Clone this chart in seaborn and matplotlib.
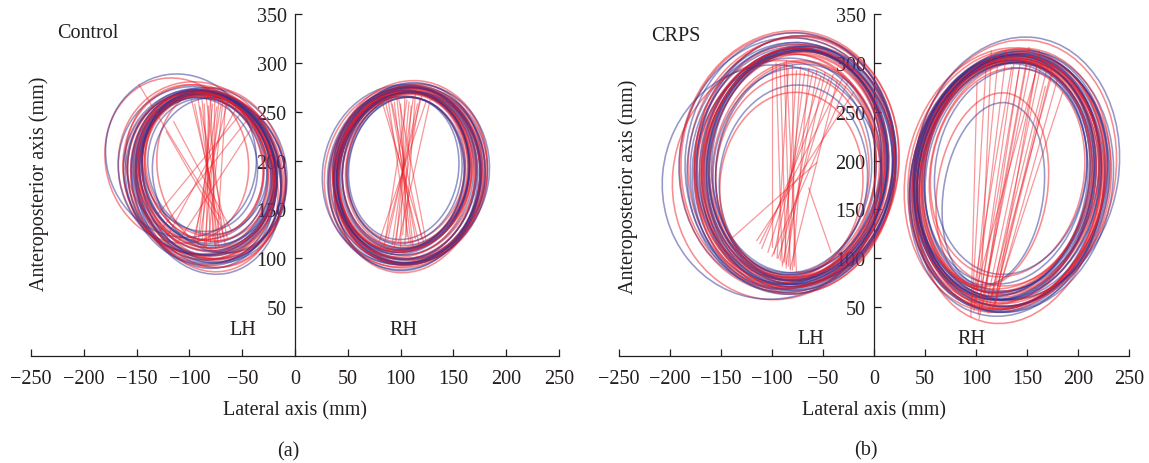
import numpy as np
import pandas as pd
import matplotlib
matplotlib.use("Agg")
import matplotlib.pyplot as plt
from matplotlib.patches import Ellipse
import seaborn as sns

# ---------------- data (mm) ----------------
x_ticks = [-250, -200, -150, -100, -50, 0, 50, 100, 150, 200, 250]
y_ticks = [50, 100, 150, 200, 250, 300, 350]
panel_names = ["Control", "CRPS"]
panel_letters = ["(a)", "(b)"]
hand_names = ["LH", "RH"]

# loops: (centre x, centre y, width, height)
ctrl_lh_tilt = 10
ctrl_lh_red = [(-85, 190, 130, 165), (-88, 185, 140, 175), (-82, 192, 120, 150), (-90, 188, 145, 180),
               (-80, 180, 135, 180), (-86, 195, 110, 145), (-112, 200, 135, 170), (-84, 186, 125, 160),
               (-78, 184, 138, 172), (-92, 192, 150, 178), (-70, 190, 120, 170), (-87, 183, 128, 168),
               (-95, 198, 130, 160), (-83, 178, 132, 185), (-86, 187, 133, 170), (-81, 189, 127, 158),
               (-89, 182, 138, 178), (-84, 193, 116, 152), (-91, 186, 142, 168), (-79, 186, 130, 174),
               (-87, 191, 122, 162), (-83, 181, 144, 182)]
ctrl_lh_blue = [(-86, 188, 128, 162), (-84, 184, 142, 178), (-89, 193, 118, 148), (-81, 187, 146, 176),
                (-87, 180, 134, 182), (-83, 194, 112, 140), (-108, 205, 142, 168), (-85, 189, 124, 158),
                (-79, 182, 140, 175), (-93, 190, 148, 172), (-72, 185, 125, 160), (-86, 186, 130, 166),
                (-90, 196, 108, 138), (-82, 176, 136, 186), (-85, 186, 135, 168), (-82, 191, 125, 156),
                (-88, 184, 140, 180), (-86, 190, 118, 150), (-90, 188, 144, 170), (-80, 184, 132, 176),
                (-84, 192, 120, 160), (-87, 182, 146, 180)]

ctrl_rh_tilt = -6
ctrl_rh_red = [(106, 188, 130, 170), (104, 185, 142, 180), (108, 190, 120, 160), (102, 184, 148, 186),
               (107, 182, 136, 178), (105, 192, 112, 152), (110, 186, 140, 176), (103, 189, 126, 166),
               (106, 180, 138, 190), (109, 191, 146, 182), (101, 187, 118, 158), (104, 183, 132, 174),
               (112, 186, 140, 184), (100, 190, 128, 164), (105, 186, 134, 174), (103, 188, 124, 164),
               (107, 184, 140, 180), (104, 190, 118, 158), (108, 185, 144, 184), (102, 186, 130, 170),
               (106, 189, 122, 162), (105, 183, 146, 186)]
ctrl_rh_blue = [(105, 187, 128, 168), (103, 184, 144, 182), (107, 191, 116, 156), (101, 186, 150, 184),
                (108, 183, 134, 176), (104, 190, 108, 150), (111, 185, 142, 180), (102, 188, 124, 164),
                (105, 181, 136, 188), (110, 189, 148, 180), (100, 186, 120, 160), (106, 184, 130, 172),
                (103, 192, 104, 146), (108, 187, 138, 186), (106, 185, 132, 172), (104, 189, 122, 162),
                (108, 186, 142, 182), (103, 187, 116, 156), (107, 184, 146, 182), (101, 188, 128, 168),
                (105, 190, 120, 160), (104, 182, 144, 188)]

crps_lh_tilt = -5
crps_lh_red = [(-79, 195, 180, 240), (-82, 198, 200, 255), (-76, 190, 165, 225), (-84, 200, 210, 262),
               (-74, 188, 190, 248), (-80, 186, 150, 205), (-78, 202, 195, 250), (-86, 192, 175, 235),
               (-72, 196, 185, 245), (-95, 180, 205, 245), (-81, 175, 140, 190), (-77, 194, 170, 230),
               (-83, 199, 215, 268), (-75, 191, 160, 220), (-78, 193, 185, 245), (-80, 197, 175, 238),
               (-77, 189, 195, 252), (-82, 195, 168, 228), (-76, 199, 200, 258), (-79, 191, 178, 240),
               (-81, 194, 190, 250), (-75, 196, 172, 232)]
crps_lh_blue = [(-78, 196, 182, 238), (-81, 193, 198, 252), (-75, 199, 168, 228), (-85, 197, 212, 258),
                (-73, 192, 188, 250), (-79, 180, 145, 195), (-77, 201, 192, 254), (-87, 189, 178, 232),
                (-71, 195, 186, 244), (-100, 178, 215, 240), (-80, 190, 155, 210), (-76, 197, 172, 234),
                (-82, 200, 206, 262), (-74, 188, 162, 222), (-79, 194, 184, 242), (-77, 196, 178, 236),
                (-80, 190, 196, 254), (-78, 198, 170, 230), (-82, 193, 202, 256), (-76, 192, 176, 242),
                (-80, 197, 188, 248), (-74, 194, 174, 236)]

crps_rh_tilt = -8
crps_rh_red = [(132, 182, 170, 245), (130, 178, 185, 262), (135, 186, 160, 230), (128, 180, 195, 272),
               (134, 175, 178, 255), (131, 188, 150, 215), (137, 183, 188, 265), (126, 177, 175, 250),
               (133, 170, 182, 275), (138, 190, 198, 268), (116, 170, 108, 200), (129, 184, 165, 240),
               (136, 179, 192, 258), (127, 186, 172, 236), (131, 180, 176, 252), (133, 183, 168, 240),
               (129, 178, 186, 262), (134, 185, 172, 246), (130, 181, 192, 266), (132, 177, 180, 256),
               (135, 182, 184, 258), (128, 184, 166, 238)]
crps_rh_blue = [(131, 181, 172, 248), (133, 177, 186, 264), (129, 187, 158, 228), (136, 179, 196, 270),
                (127, 183, 176, 252), (134, 189, 148, 212), (130, 174, 190, 268), (138, 185, 180, 256),
                (125, 180, 168, 240), (140, 192, 200, 270), (117, 166, 98, 188), (132, 183, 162, 236),
                (128, 176, 184, 260), (135, 188, 170, 244), (132, 182, 178, 250), (130, 179, 170, 244),
                (134, 181, 188, 262), (129, 186, 174, 244), (133, 178, 194, 268), (131, 183, 182, 254),
                (136, 180, 186, 260), (127, 182, 168, 242)]

# straight red jumps: (x start, y start, x end, y end)
ctrl_lh_jumps = [(-98, 262, -66, 115), (-95, 258, -70, 118), (-92, 265, -72, 112), (-90, 255, -64, 120),
                 (-88, 262, -76, 113), (-86, 258, -80, 116), (-84, 264, -68, 122), (-82, 256, -84, 112),
                 (-80, 262, -88, 118), (-78, 258, -92, 114), (-76, 265, -78, 120), (-74, 255, -95, 116),
                 (-72, 262, -86, 112), (-70, 258, -90, 122), (-68, 264, -82, 118), (-66, 256, -74, 114),
                 (-64, 260, -96, 120), (-80, 268, -75, 110), (-50, 250, -130, 145), (-45, 242, -128, 128),
                 (-55, 255, -122, 120), (-148, 278, -70, 140), (-122, 230, -70, 132), (-115, 240, -60, 128),
                 (-40, 235, -110, 118)]
ctrl_rh_jumps = [(82, 262, 122, 116), (86, 258, 118, 112), (90, 266, 114, 120), (94, 260, 110, 114),
                 (98, 264, 124, 118), (100, 258, 106, 122), (104, 266, 100, 112), (108, 260, 96, 118),
                 (112, 264, 92, 114), (116, 258, 88, 120), (120, 266, 84, 112), (124, 260, 80, 118),
                 (128, 262, 98, 116), (96, 268, 112, 110), (110, 256, 102, 124), (88, 264, 108, 116),
                 (118, 262, 94, 112), (106, 262, 86, 122), (92, 258, 120, 120), (114, 268, 104, 114)]
crps_lh_jumps = [(-100, 298, -100, 112), (-96, 300, -90, 95), (-92, 296, -86, 90), (-88, 300, -82, 88),
                 (-84, 294, -95, 100), (-80, 298, -78, 92), (-76, 292, -88, 96), (-72, 296, -84, 92),
                 (-68, 290, -92, 98), (-64, 294, -80, 88), (-60, 290, -98, 104), (-56, 292, -86, 94),
                 (-52, 286, -104, 106), (-48, 290, -90, 92), (-44, 284, -110, 110), (-40, 288, -94, 100),
                 (-36, 282, -82, 90), (-30, 286, -112, 115), (-26, 280, -100, 102), (-86, 302, -76, 86),
                 (-140, 120, -56, 198), (-64, 172, -42, 106), (-20, 270, -115, 118)]
crps_rh_jumps = [(96, 50, 110, 300), (98, 46, 122, 308), (100, 55, 130, 312), (102, 42, 138, 305),
                 (104, 60, 145, 310), (106, 48, 150, 300), (108, 65, 155, 306), (110, 52, 160, 298),
                 (112, 44, 165, 304), (114, 58, 170, 296), (116, 62, 175, 290), (118, 50, 180, 284),
                 (120, 66, 168, 276), (100, 68, 158, 288), (95, 40, 101, 280), (105, 70, 115, 312),
                 (110, 72, 142, 292), (115, 45, 185, 270), (119, 55, 162, 312), (97, 62, 135, 296),
                 (121, 70, 176, 300), (103, 38, 152, 316)]

# ---------------- style ----------------
sns.set_theme(style="white")
plt.rcParams["font.family"] = ["Liberation Serif", "DejaVu Serif"]
plt.rcParams["axes.unicode_minus"] = True

RED = "#ed1c24"
BLUE = "#2e3192"
INK = "#231f20"
FS = 14.5

fig = plt.figure(figsize=(11.49, 4.64), dpi=100)
ax_a = fig.add_axes([0.0270, 0.2306, 0.4595, 0.7371])
ax_b = fig.add_axes([0.5387, 0.2306, 0.4439, 0.7371])

panels = [
    (ax_a, [(ctrl_lh_red, ctrl_lh_blue, ctrl_lh_tilt, ctrl_lh_jumps),
            (ctrl_rh_red, ctrl_rh_blue, ctrl_rh_tilt, ctrl_rh_jumps)],
     panel_names[0], panel_letters[0], (-225, 331), [(-49, 27), (103, 27)], (-242, 177), (-6, -97)),
    (ax_b, [(crps_lh_red, crps_lh_blue, crps_lh_tilt, crps_lh_jumps),
            (crps_rh_red, crps_rh_blue, crps_rh_tilt, crps_rh_jumps)],
     panel_names[1], panel_letters[1], (-218, 328), [(-62, 18), (96, 18)], (-241, 174), (-8, -96)),
]

for ax, hands, name, letter, name_xy, hand_xy, ylab_xy, letter_xy in panels:
    for red, blue, tilt, jumps in hands:
        for r, b in zip(red, blue):
            for (cx, cy, w, h), col in ((r, RED), (b, BLUE)):
                ax.add_patch(Ellipse((cx, cy), w, h, angle=tilt, fill=False,
                                     ec=col, lw=1.15, alpha=0.5, zorder=3))
        rows = []
        for k, (x0, y0, x1, y1) in enumerate(jumps):
            rows.append({"x": x0, "y": y0, "seg": k})
            rows.append({"x": x1, "y": y1, "seg": k})
        df = pd.DataFrame(rows)
        sns.lineplot(data=df, x="x", y="y", units="seg", estimator=None, sort=False,
                     color=RED, lw=0.9, alpha=0.45, ax=ax, legend=False, zorder=4)

    ax.set_xlim(-250, 250)
    ax.set_ylim(0, 350)
    ax.set_xticks(x_ticks)
    ax.set_yticks(y_ticks)
    ax.set_xlabel("")
    ax.set_ylabel("")
    for s in ("top", "right"):
        ax.spines[s].set_visible(False)
    ax.spines["left"].set_position(("data", 0))
    ax.spines["bottom"].set_position(("data", 0))
    for s in ("left", "bottom"):
        ax.spines[s].set_color(INK)
        ax.spines[s].set_linewidth(0.9)
    ax.tick_params(axis="both", which="major", direction="in", length=5, width=0.9, color=INK,
                   labelsize=FS, labelcolor=INK, bottom=True, left=True, top=False, right=False)
    ax.tick_params(axis="x", pad=9)
    ax.tick_params(axis="y", pad=6)
    ax.patch.set_alpha(0)
    ax.grid(False)

    ax.text(name_xy[0], name_xy[1], name, fontsize=FS, ha="left", va="center", color=INK)
    for (hx, hy), hn in zip(hand_xy, hand_names):
        ax.text(hx, hy, hn, fontsize=FS, ha="center", va="center", color=INK)
    ax.text(ylab_xy[0], ylab_xy[1], "Anteroposterior axis (mm)", rotation=90, fontsize=FS,
            ha="center", va="center", color=INK)
    ax.text(0, -55, "Lateral axis (mm)", fontsize=FS, ha="center", va="center",
            color=INK, clip_on=False)
    ax.text(letter_xy[0], letter_xy[1], letter, fontsize=FS, ha="center", va="center",
            color=INK, clip_on=False)

fig.savefig("out.png", dpi=100)
